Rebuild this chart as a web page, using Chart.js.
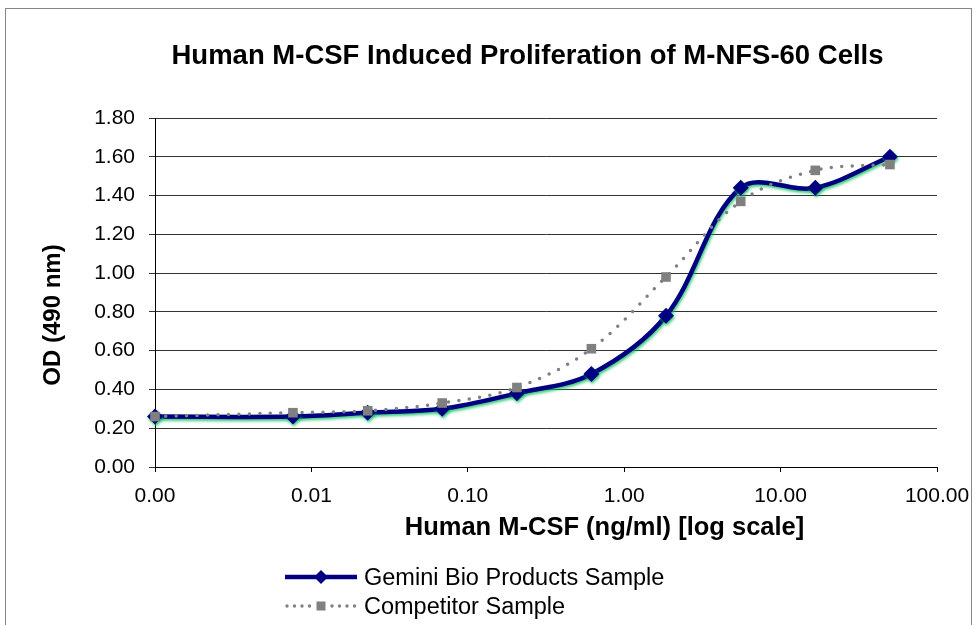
<!DOCTYPE html>
<html>
<head>
<meta charset="utf-8">
<title>Human M-CSF Induced Proliferation of M-NFS-60 Cells</title>
<script src="https://cdn.jsdelivr.net/npm/chart.js@4.4.1/dist/chart.umd.min.js"></script>
<style>
  html, body { margin: 0; padding: 0; background: #fff; }
  #chart { display: block; }
</style>
</head>
<body>
<canvas id="chart" width="977" height="625"></canvas>
<script>
// M-CSF dilution series (ng/ml); the zero point sits on the axis minimum
const concentrations = [0.001, 0.00762, 0.0229, 0.0686, 0.206, 0.617, 1.85, 5.56, 16.67, 50];
const geminiOD       = [0.26, 0.26, 0.28, 0.30, 0.38, 0.48, 0.78, 1.44, 1.44, 1.60];
const competitorOD   = [0.26, 0.28, 0.29, 0.33, 0.41, 0.61, 0.98, 1.37, 1.53, 1.56];

const xTickValues = [0.001, 0.01, 0.1, 1, 10, 100];
const xTickLabels = ['0.00', '0.01', '0.10', '1.00', '10.00', '100.00'];

const seriesNames = ['Gemini Bio Products Sample', 'Competitor Sample'];
const chartTitle  = 'Human M-CSF Induced Proliferation of M-NFS-60 Cells';
const xAxisTitle  = 'Human M-CSF (ng/ml) [log scale]';
const yAxisTitle  = 'OD (490 nm)';

const FONT  = "'Liberation Sans', Arial, sans-serif";
const NAVY  = '#000080';
const GREY  = '#808080';

const toPoints = ys => concentrations.map((x, i) => ({ x: x, y: ys[i] }));

// titles, frame, glow and legend (Excel-like placement)
const decorPlugin = {
  id: 'decor',
  beforeDraw(chart) {
    const ctx = chart.ctx;
    ctx.save();
    ctx.fillStyle = '#fff';
    ctx.fillRect(0, 0, chart.width, chart.height);
    ctx.strokeStyle = '#868686';
    ctx.lineWidth = 1;
    ctx.strokeRect(5.5, 8.5, chart.width - 11, chart.height + 20);
    ctx.restore();
  },
  beforeDatasetDraw(chart, args) {
    if (args.index !== 0) return;
    const ctx = chart.ctx;
    ctx.save();
    ctx.shadowColor = 'rgba(0, 190, 90, 0.8)';
    ctx.shadowBlur = 3;
    ctx.shadowOffsetX = 1;
    ctx.shadowOffsetY = 2;
  },
  afterDatasetDraw(chart, args) {
    if (args.index === 0) chart.ctx.restore();
  },
  afterDraw(chart) {
    const ctx = chart.ctx;
    ctx.save();
    ctx.fillStyle = '#000';
    ctx.textAlign = 'center';
    ctx.textBaseline = 'alphabetic';

    ctx.font = 'bold 27.5px ' + FONT;
    ctx.fillText(chartTitle, 527.5, 64);

    ctx.font = 'bold 25.5px ' + FONT;
    ctx.fillText(xAxisTitle, 604.5, 535);

    ctx.save();
    ctx.translate(60, 315);
    ctx.rotate(-Math.PI / 2);
    ctx.font = 'bold 24px ' + FONT;
    ctx.fillText(yAxisTitle, 0, 0);
    ctx.restore();

    // legend
    const lx0 = 285, lx1 = 357, mx = 321;
    const rows = [577, 606];

    // Gemini sample
    ctx.strokeStyle = NAVY;
    ctx.lineWidth = 4.5;
    ctx.beginPath();
    ctx.moveTo(lx0, rows[0]);
    ctx.lineTo(lx1, rows[0]);
    ctx.stroke();
    ctx.fillStyle = NAVY;
    ctx.beginPath();
    ctx.moveTo(mx, rows[0] - 7);
    ctx.lineTo(mx + 7, rows[0]);
    ctx.lineTo(mx, rows[0] + 7);
    ctx.lineTo(mx - 7, rows[0]);
    ctx.closePath();
    ctx.fill();

    // Competitor sample
    ctx.fillStyle = GREY;
    for (let x = lx0 + 2; x <= lx1; x += 7.5) {
      if (Math.abs(x - mx) < 6) continue;
      ctx.beginPath();
      ctx.arc(x, rows[1], 1.7, 0, Math.PI * 2);
      ctx.fill();
    }
    ctx.fillRect(mx - 4.5, rows[1] - 4.5, 9, 9);

    ctx.fillStyle = '#000';
    ctx.textAlign = 'left';
    ctx.font = '23.5px ' + FONT;
    ctx.fillText(seriesNames[0], 364, rows[0] + 7.5);
    ctx.fillText(seriesNames[1], 364, rows[1] + 8);
    ctx.restore();
  }
};

new Chart(document.getElementById('chart'), {
  type: 'line',
  data: {
    datasets: [
      {
        label: seriesNames[0],
        data: toPoints(geminiOD),
        borderColor: NAVY,
        backgroundColor: NAVY,
        borderWidth: 4.5,
        pointStyle: 'rectRot',
        pointRadius: 8,
        pointBorderWidth: 0,
        pointBackgroundColor: NAVY,
        tension: 0.35,
        order: 2,
        clip: false
      },
      {
        label: seriesNames[1],
        data: toPoints(competitorOD),
        borderColor: GREY,
        backgroundColor: GREY,
        borderWidth: 3.5,
        borderDash: [0, 10.5],
        borderCapStyle: 'round',
        pointStyle: 'rect',
        pointRadius: 6.8,
        pointBorderWidth: 0,
        pointBackgroundColor: GREY,
        tension: 0.35,
        order: 1,
        clip: false
      }
    ]
  },
  options: {
    responsive: false,
    animation: false,
    devicePixelRatio: 1,
    layout: { padding: { left: 5, top: 118, right: 40, bottom: 0 } },
    plugins: {
      legend: { display: false },
      title: { display: false },
      tooltip: { enabled: false }
    },
    scales: {
      x: {
        type: 'logarithmic',
        min: 0.001,
        max: 100,
        afterBuildTicks: scale => {
          scale.ticks = xTickValues.map(v => ({ value: v }));
        },
        afterFit: scale => {
          scale.height = 158;
          scale.paddingLeft = 0;
          scale.paddingRight = 0;
        },
        ticks: {
          autoSkip: false,
          maxRotation: 0,
          padding: 12,
          color: '#000',
          font: { family: FONT, size: 21 },
          callback: (value, index) => xTickLabels[index]
        },
        grid: { drawOnChartArea: false, drawTicks: true, tickLength: 5, color: '#000' },
        border: { color: '#000', width: 1 }
      },
      y: {
        min: 0,
        max: 1.8,
        afterFit: scale => { scale.width = 150; },
        ticks: {
          stepSize: 0.2,
          padding: 14,
          color: '#000',
          font: { family: FONT, size: 21 },
          callback: value => value.toFixed(2)
        },
        grid: { color: '#333', lineWidth: 1, tickLength: 6 },
        border: { color: '#000', width: 1 }
      }
    }
  },
  plugins: [decorPlugin]
});
</script>
</body>
</html>
